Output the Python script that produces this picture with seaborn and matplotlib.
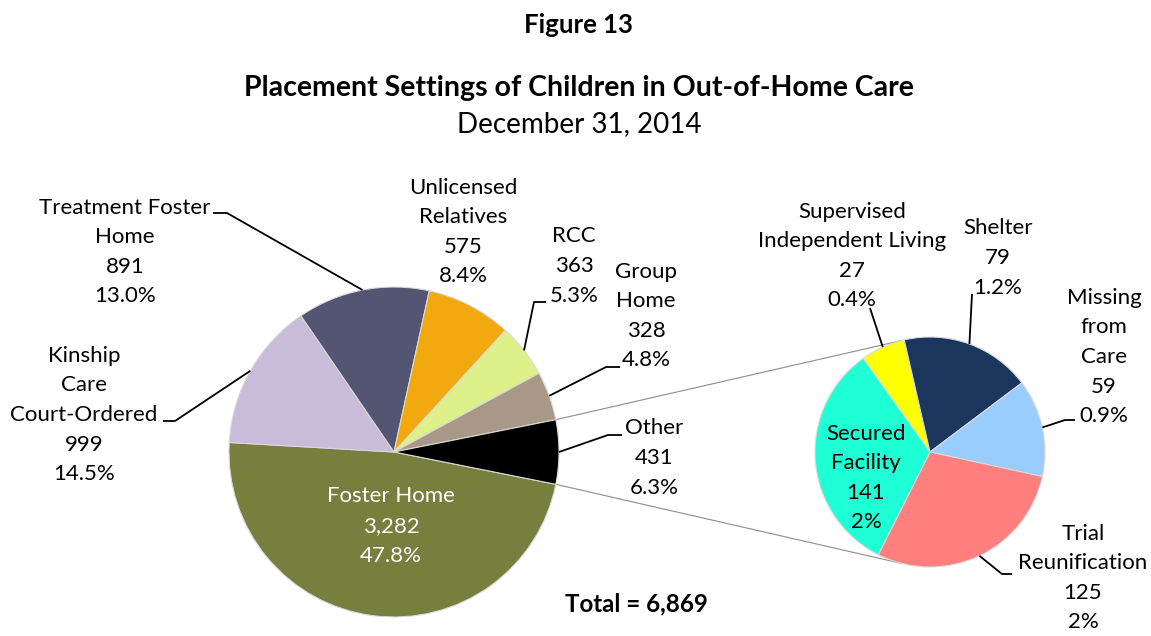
import matplotlib
matplotlib.use("Agg")
import matplotlib.pyplot as plt
import numpy as np
import seaborn as sns

# Main pie data
main_labels = ["Foster Home", "Kinship\nCare\nCourt-Ordered", "Treatment Foster\nHome",
               "Unlicensed\nRelatives", "RCC", "Group\nHome", "Other"]
main_values = [3282, 999, 891, 575, 363, 328, 431]
main_pcts = ["47.8%", "14.5%", "13.0%", "8.4%", "5.3%", "4.8%", "6.3%"]
main_colors = ["#767F3D", "#C9BBDA", "#545473", "#F2A90D", "#DDF08A", "#A89888", "#000000"]

# Breakdown of "Other"
sub_labels = ["Supervised\nIndependent Living", "Shelter", "Missing\nfrom\nCare",
              "Trial\nReunification", "Secured\nFacility"]
sub_values = [27, 79, 59, 125, 141]
sub_pcts = ["0.4%", "1.2%", "0.9%", "2%", "2%"]
sub_colors = ["#FFFF00", "#1B365D", "#99CCFF", "#FF7F7F", "#1FFFD5"]

total = sum(main_values)

W, H = 1151, 636
FONT = "Lato"


def py(y):
    # pixel row -> data y
    return H - y


def edge_point(wedge, center, r):
    mid = np.deg2rad((wedge.theta1 + wedge.theta2) / 2)
    return center[0] + r * np.cos(mid), center[1] + r * np.sin(mid)


sns.set_style("white")
plt.rcParams["font.family"] = [FONT, "DejaVu Sans"]
plt.rcParams["text.color"] = "black"

fig = plt.figure(figsize=(W / 100, H / 100), dpi=100)
ax = fig.add_axes([0, 0, 1, 1])

main_c, main_r = (394, py(452)), 165
sub_c, sub_r = (930, py(452)), 115
wp = dict(edgecolor="#D9D9D9", linewidth=0.8)

other_deg = 360 * main_values[-1] / total
main_wedges, _ = ax.pie(main_values, colors=sns.color_palette(main_colors), center=main_c,
                        radius=main_r, startangle=-other_deg / 2, counterclock=False,
                        wedgeprops=wp)
sub_wedges, _ = ax.pie(sub_values, colors=sns.color_palette(sub_colors), center=sub_c,
                       radius=sub_r, startangle=125.5, counterclock=False, wedgeprops=wp)

# connector lines between the "Other" slice and the breakdown pie
for sign in (1, -1):
    a1 = np.deg2rad(sign * other_deg / 2)
    a2 = np.deg2rad(sign * 104)
    ax.plot([main_c[0] + main_r * np.cos(a1), sub_c[0] + sub_r * np.cos(a2)],
            [main_c[1] + main_r * np.sin(a1), sub_c[1] + sub_r * np.sin(a2)],
            color="#8C8C8C", lw=0.8, zorder=0)

ax.set_xlim(0, W)
ax.set_ylim(0, H)
ax.set_aspect("equal")
ax.axis("off")

# label block centres (pixels) and leader lines (text end x, y, elbow x)
main_pos = [(391, 526), (84, 415), (125, 252), (463, 232), (574, 266), (646, 316), (654, 458)]
main_lead = [None, (163, 421, 175), (213, 213, 227), None, (546, 302, 534),
             (620, 367, 606), (622, 435, 608)]
sub_pos = [(852, 256), (998, 258), (1104, 357), (1083, 578), (866, 478)]
sub_lead = [(870, 308, 870), (972, 294, 972), (1075, 420, 1065), (1012, 574, 1002), None]

LABEL_FS = 16


def put_labels(wedges, labels, values, pcts, pos, lead, center, r, inside):
    for i, w in enumerate(wedges):
        txt = f"{labels[i]}\n{values[i]:,}\n{pcts[i]}"
        color = "white" if inside.get(i) == "w" else "black"
        x, y = pos[i]
        ax.text(x, py(y), txt, ha="center", va="center", fontsize=LABEL_FS,
                linespacing=1.6, color=color)
        if lead[i] is not None:
            tx, ty, ex = lead[i]
            px, pyy = edge_point(w, center, r)
            ax.plot([tx, ex, px], [py(ty), py(ty), pyy], color="black", lw=1.3,
                    solid_capstyle="butt")


put_labels(main_wedges, main_labels, main_values, main_pcts, main_pos, main_lead,
           main_c, main_r, {0: "w"})
put_labels(sub_wedges, sub_labels, sub_values, sub_pcts, sub_pos, sub_lead,
           sub_c, sub_r, {})

# titles
ax.text(579, py(25), "Figure 13", ha="center", va="center", fontsize=18.5, fontweight="bold")
ax.text(579, py(88), "Placement Settings of Children in Out-of-Home Care", ha="center",
        va="center", fontsize=20.5, fontweight="bold")
ax.text(579, py(124), "December 31, 2014", ha="center", va="center", fontsize=20)
ax.text(636, py(604), f"Total = {total:,}", ha="center", va="center", fontsize=17.4,
        fontweight="bold")

fig.savefig("out.png", dpi=100, facecolor="white")
